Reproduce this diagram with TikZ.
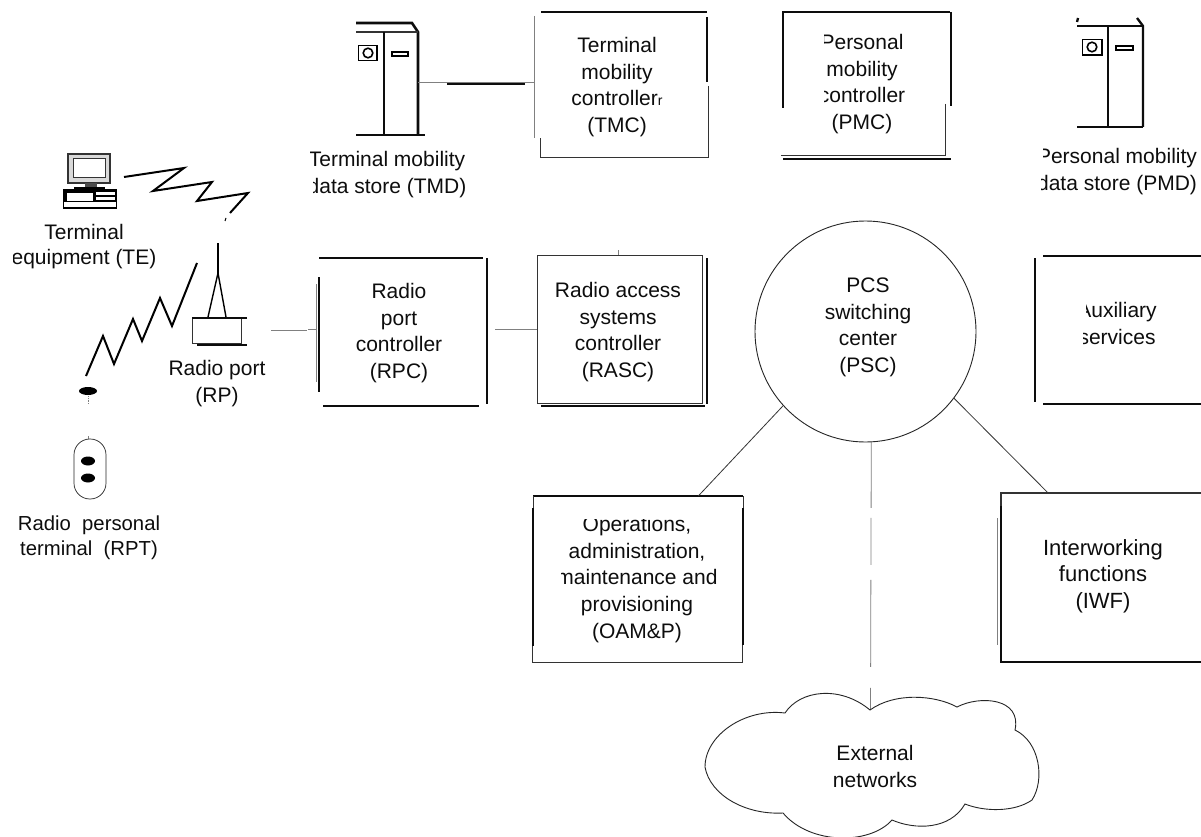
\documentclass[tikz,border=0pt]{standalone}
\usepackage{fontspec}
\setmainfont{Liberation Sans}
\begin{document}
\begin{tikzpicture}[x=1pt,y=-1pt,
  lbl/.style={align=center,inner sep=0pt,outer sep=0pt,text=black!95,font=\fontsize{21}{26.6}\selectfont},
  lblt/.style={lbl,font=\fontsize{21}{25}\selectfont},
  lbls/.style={lbl,font=\fontsize{20.3}{25}\selectfont},
  lblw/.style={lbl,font=\fontsize{22}{26.6}\selectfont},
  hold/.style={inner sep=0pt,outer sep=0pt,rectangle},
  hv/.style={line width=2.3pt,black!95},
  tn/.style={line width=.8pt,black!80},
  fa/.style={line width=.8pt,black!50},
  wave/.style={line width=2pt,black,line join=miter},
  mask/.style={fill=white,draw=none}]
\useasboundingbox (0,0) rectangle (1201,837);
\clip (0,0) rectangle (1201,837);
\fill[white] (0,0) rectangle (1201,837);
% holders
\node[hold,minimum width=174pt,minimum height=145pt] (tmcb) at (621,85) {};
\node[hold,minimum width=168pt,minimum height=147pt] (pmcb) at (867,85) {};
\node[hold,minimum width=168pt,minimum height=148pt] (rpcb) at (403,332) {};
\node[hold,minimum width=165pt,minimum height=148pt] (rascb) at (619.5,329) {};
\node[hold,minimum width=211pt,minimum height=166pt] (oamb) at (638,579) {};
\node[hold,minimum width=204pt,minimum height=169pt] (iwfb) at (1103,577.5) {};
\node[hold,minimum width=62pt,minimum height=113pt] (tmds) at (387,79) {};
\node[hold,minimum width=55pt,minimum height=46pt] (rpb) at (219,331) {};
\node[hold,minimum width=30pt,minimum height=20pt] (cloudb) at (870.5,700) {};
% PSC
\node[circle,draw,line width=.9pt,black!85,minimum size=221pt,inner sep=0pt,outer sep=0pt] (psc) at (865.5,331.5) {};
% TMC box
\draw[hv] (541,12) -- (707,12);
\draw[hv] (707,17) -- (707,82);
\draw[tn] (708,86) -- (708,157) -- (540,157) -- (540,138);
\draw[fa] (534,16) -- (534,138);
% PMC box
\draw[hv] (783,108) -- (783,12) -- (950,12);
\draw[hv] (951,12) -- (951,106);
\draw[tn] (945,104) -- (945,155) -- (781,155);
\draw[hv] (783,159) -- (951,159);
% TMD server
\draw[hv,line width=2.6pt] (356,23) -- (412,23) -- (418,32) -- (418,135);
\draw[tn,line width=1.2pt] (356,32) -- (418,32);
\draw[hv,line width=2.6pt] (384,32) -- (384,135);
\draw[hv,line width=2.6pt] (356,135) -- (425,135);
\draw[black,line width=1.6pt] (358.5,45.5) rectangle (377,60.5);
\draw[black,line width=1.6pt] (368,53) circle (4.8);
\draw[black,line width=1.4pt] (392,52) rectangle (408,56);
% PMD server
\draw[hv] (1078,18) -- (1077,22);
\draw[hv] (1077,26) -- (1143,26);
\draw[hv] (1137,18) -- (1143,26) -- (1143,127);
\draw[hv] (1108,26) -- (1108,127);
\draw[hv] (1077,127) -- (1143,127);
\draw[black,line width=1.6pt] (1082.5,39.5) rectangle (1102,55);
\draw[black,line width=1.6pt] (1092,47) circle (4.8);
\draw[black,line width=1.4pt] (1116,46) rectangle (1133,50);
% RPC box
\draw[hv] (319,258) -- (483,258);
\draw[hv] (487,258) -- (487,404);
\draw[hv] (319,277) -- (319,392);
\draw[hv] (323,406) -- (479,406);
\draw[fa] (316,284) -- (316,382);
% RASC box
\draw[tn] (537,255) rectangle (702,403);
\draw[hv] (707,258) -- (707,404);
\draw[hv] (541,406) -- (705,406);
\draw[fa] (618,250) -- (618,255);
% Auxiliary box
\draw[hv] (1035,258) -- (1035,402);
\draw[hv] (1043,256) -- (1201,256);
\draw[hv] (1043,404) -- (1201,404);
% OAM box
\draw[hv] (533,496) -- (743,496);
\draw[hv] (533,508) -- (533,646);
\draw[hv] (743,508) -- (743,645);
\draw[tn] (533,496) -- (533,508);
\draw[tn] (743,496) -- (743,508);
\draw[tn] (532,646) -- (532,662) -- (742,662) -- (742,645);
% IWF box
\draw[tn,line width=1.1pt] (1001,506) -- (1001,493) -- (1201,493);
\draw[hv] (1001,506) -- (1001,662) -- (1201,662);
\draw[fa] (997,518) -- (997,645);
% connectors
\draw[fa] (418,82) -- (534,82);
\draw[hv] (447,84) -- (525,84);
\draw[fa] (271,330) -- (307,330);
\draw[fa] (308,329) -- (316,329);
\draw[fa] (495,329) -- (537,329);
\draw[tn] (psc.222) -- (oamb.54.6);
\draw[tn] (psc.-37.6) -- (iwfb.123);
\draw[fa,dash pattern=on 66pt off 10pt on 47pt off 15pt on 87pt off 21pt on 22pt off 500pt] (psc.-87) -- (cloudb.south);
% cloud
\draw[line width=.9pt,black!85] (705,767)
 .. controls (705,735) and (745,708) .. (785,713)
 .. controls (800,690) and (840,685) .. (870,710)
 .. controls (895,692) and (935,695) .. (957,707)
 .. controls (980,695) and (1022,698) .. (1015,730)
 .. controls (1040,742) and (1045,780) .. (1032,800)
 .. controls (1015,812) and (985,812) .. (965,804)
 .. controls (950,830) and (915,830) .. (892,820)
 .. controls (870,845) and (810,845) .. (783,813)
 .. controls (745,815) and (710,795) .. (705,767);
% terminal equipment
\draw[tn,line width=1.3pt,fill=black!15] (68,154) rectangle (110,183);
\draw[tn,fill=white] (73,158) rectangle (105,177);
\fill[black!70] (85,183) rectangle (97,187);
\fill[black] (74,187) rectangle (105,190);
\draw[black,line width=1.5pt,fill=white] (63.5,190) rectangle (116.5,208);
\fill[black] (63,190) rectangle (95,202);
\fill[white] (67,193) rectangle (93,201);
\fill[black] (95,190) rectangle (117,202);
\fill[white] (96,197) rectangle (115,200);
\fill[white] (96,192) rectangle (115,195);
\node[hold,minimum width=54pt,minimum height=54pt] (te) at (90,181) {};
% waves
\draw[wave] (124,177) -- (184,168) -- (153,191) -- (212,182) -- (197,201) -- (248,193) -- (230,213);
\draw[line width=1pt] (225,221) -- (226,218);
\draw[wave] (86,376) -- (103,336) -- (114,364) -- (133,319) -- (142,341) -- (160,298) -- (172,326) -- (197,263);
% radio port
\draw[line width=1.4pt] (218,243) -- (218,273);
\draw[line width=1.4pt] (208,317) -- (218,273) -- (226,317);
\draw[tn,line width=1pt] (247,318) -- (192,318) -- (192,343) -- (241,343) -- (241,318);
\draw[hv] (192,318) -- (247,318);
\draw[hv] (197,345) -- (247,345);
% RPT
\fill[black] (88,391) ellipse (9 and 4);
\draw[fa,densely dotted] (88,396) -- (88,404);
\draw[fa] (88,436) -- (88,439);
\draw[line width=.7pt,black!85,rounded corners=15.8pt] (74,439) rectangle (106,499);
\fill[black] (88,461) ellipse (7 and 4.5);
\fill[black] (88,478) ellipse (7 and 4.5);
% labels
\node[lbl] (tmc) at (617,87) {Terminal\\mobility\\controller{\fontsize{14}{14}\selectfont r}\\(TMC)};
\node[lbl] (pmc) at (862,84) {Personal\\mobility\\controller\\(PMC)};
\node[lbl] (rpc) at (399,333) {Radio\\port\\controller\\(RPC)};
\node[lbl] (rasc) at (618,332) {Radio access\\systems\\controller\\(RASC)};
\node[lbl] (psct) at (868,327.5) {PCS\\switching\\center\\(PSC)};
\node[lbl] (aux) at (1117,323.5) {Auxiliary\\services};
\node[lbl] (oam) at (637,579.5) {Operations,\\administration,\\maintenance and\\provisioning\\(OAM\&P)};
\node[lblw] (iwf) at (1103,576) {Interworking\\functions\\(IWF)};
\node[lbl] (ext) at (875,766.5) {External\\networks};
\node[lbl] (tmd) at (387,174.5) {Terminal mobility\\data store (TMD)};
\node[lbl] (pmd) at (1117,171.5) {Personal mobility\\data store (PMD)};
\node[lblt] (tet) at (84,247) {Terminal\\equipment (TE)};
\node[lbl] (rpt) at (217,383.5) {Radio port\\(RP)};
\node[lbls] (rptt) at (89,537.5) {Radio\ \ personal\\terminal\ \ (RPT)};
% scan dropouts over the letters
\path[mask] (298,150) rectangle (310,170);
\path[mask] (298,175) rectangle (313,198);
\path[mask] (1025,148) rectangle (1043,167);
\path[mask] (1025,172) rectangle (1041,194);
\path[mask] (0,248) rectangle (12.5,268);
\path[mask] (812,32) rectangle (824,52);
\path[mask] (820,44) rectangle (834,53);
\path[mask] (810,85) rectangle (824,105);
\path[mask] (570,508) rectangle (700,518.5);
\path[mask] (550,566) rectangle (561,587);
\path[mask] (1070,299) rectangle (1086,321);
\path[mask] (1070,327) rectangle (1083,348);
\end{tikzpicture}
\end{document}
